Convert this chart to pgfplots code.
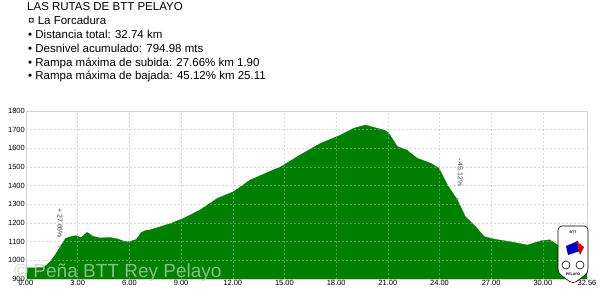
\documentclass[border=0pt]{standalone}
\usepackage{pgfplots}
\pgfplotsset{compat=1.18}
\usepackage{fontspec}
\setmainfont{Liberation Sans}
\definecolor{prof}{RGB}{0,128,0}
\definecolor{wm}{RGB}{178,212,178}
\begin{document}
\begin{tikzpicture}
\useasboundingbox (0,0) rectangle (600bp,293bp);
\begin{axis}[
  at={(26bp,14bp)}, anchor=south west,
  scale only axis, width=561bp, height=168bp,
  xmin=0, xmax=32.56, ymin=900, ymax=1800,
  xtick={0,3,6,9,12,15,18,21,24,27,30,32.56},
  ytick={900,1000,...,1800},
  major tick length=0pt,
  grid=major,
  major grid style={gray!60, opacity=0.5, dash pattern=on 2bp off 2bp},
  axis on top,
  axis line style={gray!35},
  /pgf/number format/assume math mode=true,
  xticklabel style={font=\fontsize{7.5bp}{8bp}\selectfont, inner sep=1.5bp, /pgf/number format/.cd, fixed, fixed zerofill, precision=2},
  yticklabel style={font=\fontsize{7.5bp}{8bp}\selectfont, inner sep=1bp, /pgf/number format/.cd, fixed, set thousands separator={}},
  clip=false,
]
\addplot[fill=prof, draw=prof, line width=0.3bp] coordinates {
(0,900) (0,960) (0.5,960) (1.0,962) (1.2,975) (1.4,993) (1.7,1030) (1.9,1060) (2.0,1075)
(2.3,1118) (2.6,1127) (2.9,1132) (3.2,1122) (3.55,1150) (3.9,1128) (4.3,1120) (4.9,1122)
(5.3,1115) (5.7,1102) (6.0,1100) (6.4,1112) (6.7,1150) (7.0,1162) (7.2,1163) (7.8,1180)
(8.4,1198) (9.15,1225) (10.1,1270) (10.6,1300) (11.1,1332) (12.05,1368) (13.0,1430)
(14.0,1470) (14.8,1502) (15.9,1564) (17.1,1627) (18.25,1671) (19.0,1707) (19.7,1725)
(20.4,1707) (20.8,1698) (21.05,1682) (21.55,1610) (22.1,1591) (22.7,1547) (23.5,1520)
(23.97,1493) (24.46,1404) (25.04,1323) (25.5,1234) (26.1,1180) (26.6,1127) (27.2,1113)
(28.1,1100) (29.1,1082) (29.9,1105) (30.4,1110) (31.0,1073) (31.6,1060) (32.2,1050)
(32.56,1050) (32.56,900)
} \closedcycle;
\addplot[only marks, mark=*, mark size=0.9bp, gray!60] coordinates {(1.94,1073) (25.06,1329)};
\node[rotate=-90, anchor=west, font=\fontsize{7bp}{7bp}\selectfont, text=black!75, inner sep=0pt] at (axis cs:1.98,1280) {+ 27.66\%};
\node[rotate=-90, anchor=west, font=\fontsize{7bp}{7bp}\selectfont, text=black!75, inner sep=0pt] at (axis cs:25.2,1547) {- 45.12\%};
\end{axis}
% watermark
\node[anchor=base west, font=\fontsize{19bp}{19bp}\selectfont, text=wm, text opacity=0.75, inner sep=0pt] at (14bp,16bp) {© Peña BTT Rey Pelayo};
% logo
\begin{scope}
\draw[black, fill=white, line width=0.6bp, rounded corners=4bp] (558bp,67bp) -- (588bp,67bp) -- (588bp,20bp) -- (573bp,9bp) -- (558bp,20bp) -- cycle;
\fill[blue!80!black] (566bp,47bp) -- (578bp,52bp) -- (580bp,42bp) -- (568bp,38bp) -- cycle;
\fill[red!85!black] (576bp,52bp) -- (584bp,46bp) -- (580bp,38bp) -- cycle;
\draw[black, line width=0.6bp] (566bp,28bp) circle (4bp);
\draw[black, line width=0.6bp] (580bp,28bp) circle (4bp);
\node[font=\fontsize{3.5bp}{4bp}\selectfont\bfseries, inner sep=0pt] at (573bp,61bp) {BTT};
\node[font=\fontsize{3.5bp}{4bp}\selectfont\bfseries, inner sep=0pt] at (573bp,19bp) {PELAYO};
\end{scope}
% header text
\begin{scope}[every node/.style={anchor=base west, inner sep=0pt, font=\fontsize{11.5bp}{12bp}\selectfont}]
\node at (27bp,282bp) {LAS RUTAS DE BTT PELAYO};
\node at (28bp,268bp) {¤ La Forcadura};
\node at (28bp,254.5bp) {• Distancia total: 32.74 km};
\node at (28bp,240.5bp) {• Desnivel acumulado: 794.98 mts};
\node at (28bp,226.7bp) {• Rampa máxima de subida: 27.66\% km 1.90};
\node at (28bp,213bp) {• Rampa máxima de bajada: 45.12\% km 25.11};
\end{scope}
\end{tikzpicture}
\end{document}
